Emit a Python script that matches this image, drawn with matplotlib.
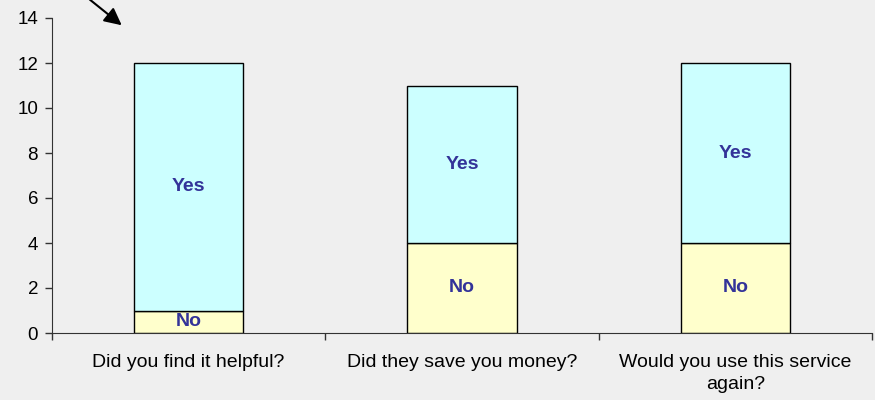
import matplotlib
matplotlib.use("Agg")
import matplotlib.pyplot as plt
import numpy as np

categories = ["Did you find it helpful?", "Did they save you money?", "Would you use this service\nagain?"]
no_vals = [1, 4, 4]
yes_vals = [11, 7, 8]

plt.rcParams['font.family'] = ['Liberation Sans', 'DejaVu Sans']

fig = plt.figure(figsize=(8.75, 4), dpi=100, facecolor='#EFEFEF')
ax = fig.add_axes([52/875, 1-333/400, (872-52)/875, (333-18)/400])
ax.set_facecolor('#EFEFEF')

x = np.arange(len(categories))
w = 0.4
ax.bar(x, no_vals, w, color='#FFFFCC', edgecolor='black', linewidth=1)
ax.bar(x, yes_vals, w, bottom=no_vals, color='#CCFFFF', edgecolor='black', linewidth=1)

for xi, n, y in zip(x, no_vals, yes_vals):
    ax.text(xi, n/2, "No", ha='center', va='center', color='#333399', fontsize=14, fontweight='bold')
    ax.text(xi, n + y/2, "Yes", ha='center', va='center', color='#333399', fontsize=14, fontweight='bold')

ax.set_xlim(-0.5, 2.5)
ax.set_ylim(0, 14)
ax.set_yticks(range(0, 15, 2))
ax.set_xticks(x)
ax.set_xticklabels(categories, fontsize=14, linespacing=1.4)
ax.set_xticks([-0.5, 0.5, 1.5, 2.5], minor=True)
ax.tick_params(axis='x', which='major', length=0, pad=15)
ax.tick_params(axis='x', which='minor', length=5, direction='out', width=1, color='#333333')
ax.tick_params(axis='y', length=5, direction='out', labelsize=13.5, width=1, color='#333333', pad=5)
for s in ['top', 'right']:
    ax.spines[s].set_visible(False)
ax.spines['left'].set_color('#333333')
ax.spines['bottom'].set_color('#333333')

ax.annotate("", xy=(-0.237, 13.6), xytext=(-0.37, 14.9),
            arrowprops=dict(arrowstyle='-|>', color='black', lw=1.5, mutation_scale=26),
            annotation_clip=False)

fig.savefig("out.png", dpi=100, facecolor=fig.get_facecolor())
